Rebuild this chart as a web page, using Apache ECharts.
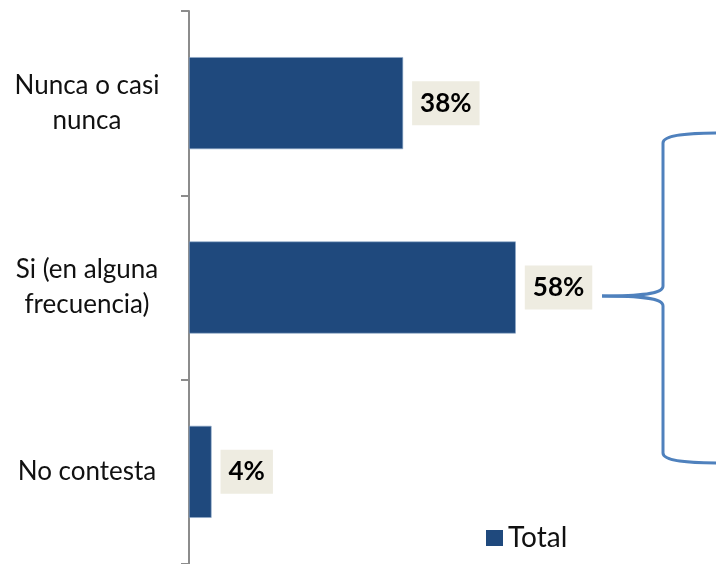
<!DOCTYPE html>
<html>
<head>
<meta charset="utf-8">
<script src="https://cdn.jsdelivr.net/npm/echarts@6/dist/echarts.min.js"></script>
<style>
  html, body { margin: 0; padding: 0; background: #ffffff; }
  #chart { width: 716px; height: 564px; }
</style>
</head>
<body>
<div id="chart"></div>
<script>
// Survey answers, top to bottom
const categories = ['Nunca o casi\nnunca', 'Si (en alguna\nfrecuencia)', 'No contesta'];
const totalValues = [38, 58, 4];
const seriesName = 'Total';

const FONT = 'Lato, "Noto Sans", sans-serif';

const chart = echarts.init(document.getElementById('chart'), null, { renderer: 'canvas' });

chart.setOption({
  animation: false,
  backgroundColor: '#ffffff',
  grid: { left: 189, top: 11, width: 524, height: 557, containLabel: false },
  xAxis: {
    type: 'value',
    min: 0,
    max: 93,
    show: false
  },
  yAxis: {
    type: 'category',
    data: categories,
    inverse: true,
    axisLine: { show: true, lineStyle: { color: '#8c8c8c', width: 2 } },
    axisTick: { show: true, length: 8, lineStyle: { color: '#8c8c8c', width: 2 } },
    axisLabel: {
      color: '#111111',
      fontFamily: FONT,
      fontSize: 26,
      lineHeight: 35,
      align: 'center',
      margin: 102
    },
    splitLine: { show: false }
  },
  legend: {
    data: [seriesName],
    left: 481,
    top: 519,
    itemWidth: 17,
    itemHeight: 16,
    itemGap: 4,
    icon: 'rect',
    itemStyle: { borderWidth: 0 },
    textStyle: { fontFamily: FONT, fontSize: 28, color: '#111111' }
  },
  series: [{
    name: seriesName,
    type: 'bar',
    data: totalValues,
    barWidth: 92,
    itemStyle: { color: '#1F497D', borderColor: '#8fa9c9', borderWidth: 0.6 },
    label: {
      show: true,
      position: 'right',
      distance: 9,
      formatter: '{c}%',
      fontFamily: FONT,
      fontWeight: 'bold',
      fontSize: 26,
      color: '#000000',
      backgroundColor: '#EEECE1',
      padding: [9, 8, 9, 8]
    }
  }]
});

// Curly brace grouping the "Si" answer, starting just right of its label
function drawBrace() {
  const c = chart.convertToPixel({ seriesIndex: 0 }, [totalValues[1], 1]);
  const tipX = Math.round(c[0]) + 86;
  const tipY = Math.round(c[1]) + 8;
  const spineX = tipX + 61;
  const top = 133, bottom = 463, edge = 722;
  const style = { fill: null, stroke: '#4F81BD', lineWidth: 3 };
  const curve = (x1, y1, cx1, cy1, cx2, cy2, x2, y2) => ({
    type: 'bezierCurve',
    shape: { x1: x1, y1: y1, cpx1: cx1, cpy1: cy1, cpx2: cx2, cpy2: cy2, x2: x2, y2: y2 },
    style: style, z: 10
  });
  const line = (x1, y1, x2, y2) => ({
    type: 'line', shape: { x1: x1, y1: y1, x2: x2, y2: y2 }, style: style, z: 10
  });
  chart.setOption({
    graphic: [
      curve(tipX, tipY, tipX + 40, tipY, spineX, tipY - 2, spineX, tipY - 10),
      line(spineX, tipY - 10, spineX, top + 10),
      curve(spineX, top + 10, spineX, top + 2, spineX + 25, top, edge, top),
      curve(tipX, tipY, tipX + 40, tipY, spineX, tipY + 2, spineX, tipY + 10),
      line(spineX, tipY + 10, spineX, bottom - 10),
      curve(spineX, bottom - 10, spineX, bottom - 2, spineX + 25, bottom, edge, bottom)
    ]
  });
}
drawBrace();
</script>
</body>
</html>
